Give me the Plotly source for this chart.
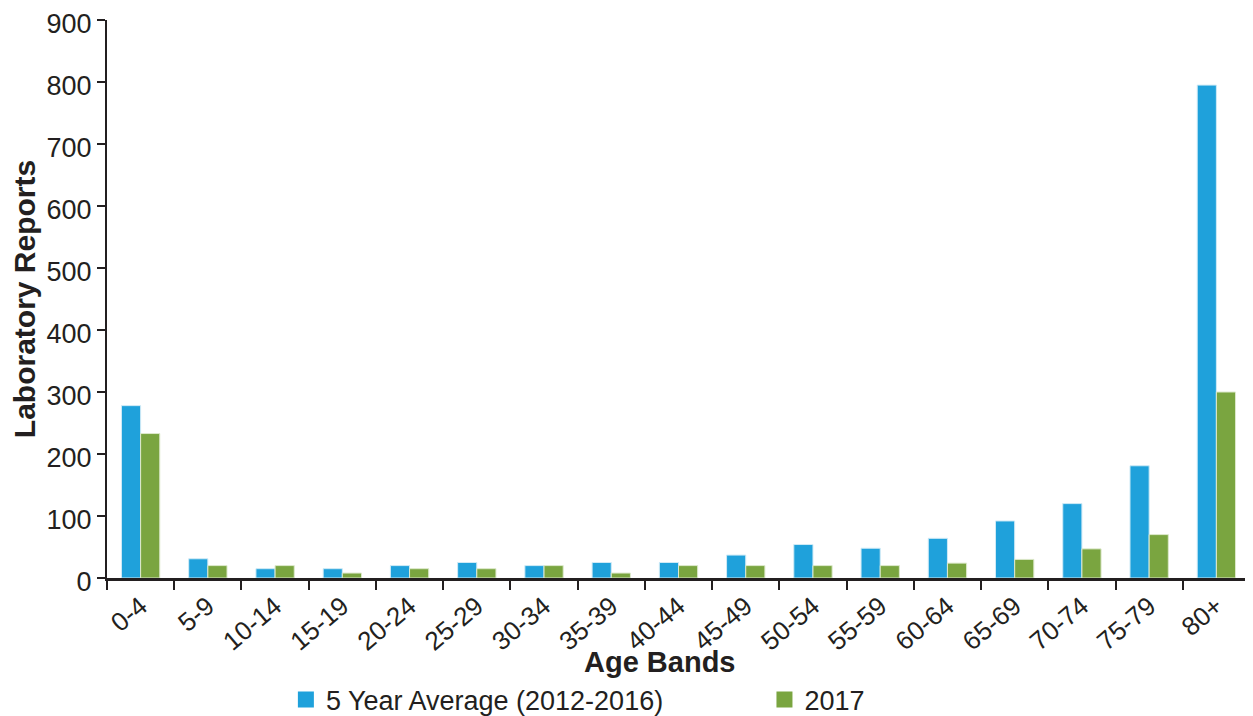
import plotly.graph_objects as go

categories = ["0-4", "5-9", "10-14", "15-19", "20-24", "25-29", "30-34", "35-39",
              "40-44", "45-49", "50-54", "55-59", "60-64", "65-69", "70-74", "75-79", "80+"]
avg_5yr = [278, 31, 15, 15, 20, 25, 20, 25, 25, 37, 54, 48, 64, 92, 120, 181, 795]
y2017 = [233, 20, 20, 8, 15, 15, 20, 8, 20, 20, 20, 20, 24, 30, 47, 70, 300]
series_names = ["5 Year Average (2012-2016)", "2017"]
y_ticks = [0, 100, 200, 300, 400, 500, 600, 700, 800, 900]

BLUE = "#1FA1DB"
GREEN = "#7AA540"
TEXT = "#231F20"
FONT = "Liberation Sans, Arial, sans-serif"

fig = go.Figure()
fig.add_trace(go.Bar(x=categories, y=avg_5yr, name=series_names[0], marker_color=BLUE,
                     marker_line=dict(color="#CFEAF6", width=1), showlegend=False))
fig.add_trace(go.Bar(x=categories, y=y2017, name=series_names[1], marker_color=GREEN,
                     marker_line=dict(color="#DDE9CC", width=1), showlegend=False))
# legend proxies with larger square symbols, one legend each
for nm, col, lg in zip(series_names, [BLUE, GREEN], ["legend", "legend2"]):
    fig.add_trace(go.Scatter(x=[None], y=[None], mode="markers", name=nm, legend=lg,
                             marker=dict(symbol="square", size=27, color=col)))

leg_common = dict(orientation="h", xanchor="left", yanchor="middle",
                  xref="container", yref="container",
                  font=dict(size=27, family=FONT, color=TEXT), itemsizing="trace",
                  bgcolor="rgba(0,0,0,0)")

fig.update_layout(
    width=1245, height=708,
    margin=dict(l=99, r=3, t=12, b=138),
    paper_bgcolor="white", plot_bgcolor="white",
    barmode="group", bargap=0.43, bargroupgap=0,
    font=dict(family=FONT, color=TEXT, size=27),
    legend=dict(x=0.2232, y=0.0226, **leg_common),
    legend2=dict(x=0.6076, y=0.0226, **leg_common),
    showlegend=True,
)
fig.update_xaxes(
    showline=True, linecolor=TEXT, linewidth=2.5,
    ticks="outside", tickson="boundaries", ticklen=9, tickwidth=2, tickcolor=TEXT,
    tickangle=-40, tickfont=dict(size=26, family=FONT, color=TEXT),
    showgrid=False, zeroline=False, automargin=False, ticklabeloverflow="allow",
)
fig.update_yaxes(
    range=[0, 900], tickvals=y_ticks,
    showline=True, linecolor=TEXT, linewidth=2,
    ticks="outside", ticklen=8, tickwidth=2, tickcolor=TEXT,
    tickfont=dict(size=27, family=FONT, color=TEXT),
    ticklabelshift=4,
    showgrid=False, zeroline=False, automargin=False, ticklabeloverflow="allow",
    title=dict(text="<b>Laboratory Reports</b>", font=dict(size=30, family=FONT, color=TEXT), standoff=6),
)
fig.add_annotation(text="<b>Age Bands</b>", xref="paper", yref="paper", x=0.483, y=-0.151,
                   xanchor="center", yanchor="middle", showarrow=False,
                   font=dict(size=29, family=FONT, color=TEXT))

fig.write_html("out.html")
